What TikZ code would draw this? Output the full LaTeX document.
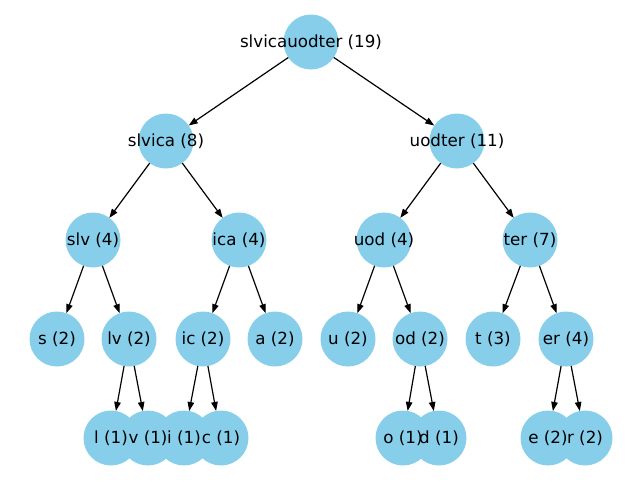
\documentclass[tikz,border=0pt]{standalone}
\usepackage{fontspec}
\setmainfont{DejaVu Sans}
\usepackage{tikz}
\usetikzlibrary{arrows.meta}
\definecolor{skyblue}{HTML}{87CEEB}

\begin{document}
\begin{tikzpicture}[
    x=1pt, y=-1pt,
    font=\fontsize{16.7}{20}\selectfont,
    >={Triangle[length=9pt, width=6.5pt]},
    leaf/.style={circle, fill=skyblue, minimum size=55pt, inner sep=0pt, outer sep=0pt},
    tag/.style={inner sep=0pt, anchor=center},
    line/.style={->, line width=1.2pt}
]
\useasboundingbox (0,0) rectangle (640,480);

% Level 0 and 1
\node[leaf] (n-root) at (311,42) {};
\node[leaf] (n-slvica) at (166,141) {};
\node[leaf] (n-uodter) at (457,141) {};

% Level 2
\node[leaf] (n-slv) at (93,240) {};
\node[leaf] (n-ica) at (239,240) {};
\node[leaf] (n-uod) at (384,240) {};
\node[leaf] (n-ter) at (530,240) {};

% Level 3
\node[leaf] (n-s) at (57,339) {};
\node[leaf] (n-lv) at (129,339) {};
\node[leaf] (n-ic) at (203,339) {};
\node[leaf] (n-a) at (275,339) {};
\node[leaf] (n-u) at (348,339) {};
\node[leaf] (n-od) at (420,339) {};
\node[leaf] (n-t) at (493,339) {};
\node[leaf] (n-er) at (566,339) {};

% Level 4 (circles overlap, labels go on top)
\node[leaf] (n-l) at (111,438) {};
\node[leaf] (n-v) at (148,438) {};
\node[leaf] (n-i) at (184,438) {};
\node[leaf] (n-c) at (221,438) {};
\node[leaf] (n-o) at (403,438) {};
\node[leaf] (n-d) at (439,438) {};
\node[leaf] (n-e) at (548,438) {};
\node[leaf] (n-r) at (585,438) {};

% Labels
\foreach \n/\t in {root/slvicauodter (19), slvica/slvica (8), uodter/uodter (11),
    slv/slv (4), ica/ica (4), uod/uod (4), ter/ter (7),
    s/s (2), lv/lv (2), ic/ic (2), a/a (2), u/u (2), od/od (2), t/t (3), er/er (4),
    l/l (1), v/v (1), i/i (1), c/c (1), o/o (1), d/d (1), e/e (2), r/r (2)}
    \node[tag] (t-\n) at (n-\n) {\t};

% Connections
\foreach \a/\b in {root/slvica, root/uodter,
    slvica/slv, slvica/ica, uodter/uod, uodter/ter,
    slv/s, slv/lv, ica/ic, ica/a, uod/u, uod/od, ter/t, ter/er,
    lv/l, lv/v, ic/i, ic/c, od/o, od/d, er/e, er/r}
    \draw[line] (n-\a) -- (n-\b);

\end{tikzpicture}
\end{document}
